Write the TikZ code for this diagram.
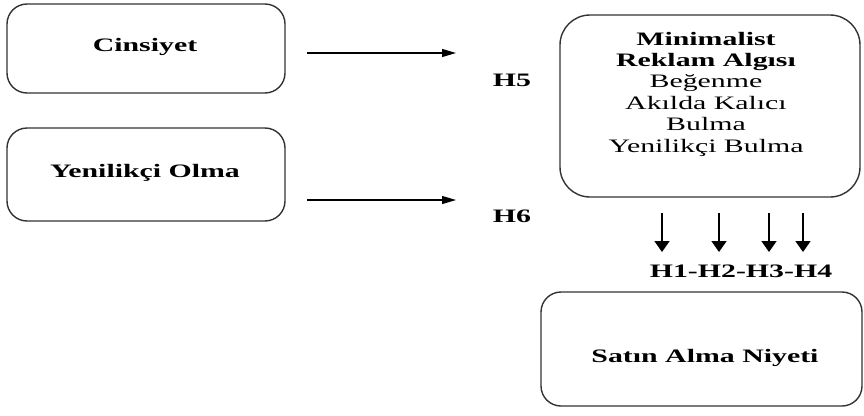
\documentclass[tikz,border=0pt]{standalone}
\usepackage{fontspec}
\setmainfont{Liberation Serif}[FakeStretch=1.57]
\usetikzlibrary{arrows.meta}
\begin{document}
\begin{tikzpicture}[x=1pt,y=-1pt,
  box/.style={draw=black!80,line width=1.4pt,rounded corners=#1,inner sep=0pt},
  box/.default=20pt,
  lbl/.style={font=\fontsize{19}{21.4}\selectfont\bfseries,inner sep=0pt},
  txt/.style={font=\fontsize{19}{21.4}\selectfont,inner sep=0pt,align=center},
  harrow/.style={line width=1.2pt,-{Triangle[length=14pt,width=8pt]}},
  varrow/.style={line width=1.6pt,-{Triangle[length=11pt,width=15pt]}}]
\useasboundingbox (0,0) rectangle (864,415);

% outer boxes
\node[box,minimum width=278pt,minimum height=89pt] (cins) at (146,48.5) {};
\node[box,minimum width=278pt,minimum height=93pt] (yeni) at (146,174.5) {};
\node[box=30pt,minimum width=300pt,minimum height=182pt] (mra) at (710,106) {};
\node[box,minimum width=321pt,minimum height=114pt] (sani) at (701.5,349) {};

% box texts
\node[lbl] (cinst) at (145,47) {Cinsiyet};
\node[lbl] (yenit) at (145,173) {Yenilikçi Olma};
\node[txt] (mrat) at (706,94) {\textbf{Minimalist}\\\textbf{Reklam Algısı}\\Beğenme\\Akılda Kalıcı\\Bulma\\Yenilikçi Bulma};
\node[lbl] (sanit) at (705,358) {Satın Alma Niyeti};

% hypothesis labels
\node[lbl] (h5) at (512,80) {H5};
\node[lbl] (h6) at (512,216.5) {H6};
\node[lbl] (h14) at (741,271) {H1-H2-H3-H4};

% arrow end points
\coordinate (a1s) at (307,53);  \coordinate (a1e) at (456,53);
\coordinate (a2s) at (307,200); \coordinate (a2e) at (456,200);
\foreach \n/\x in {1/662,2/719,3/769,4/803}{
  \coordinate (v\n s) at (\x,213);
  \coordinate (v\n e) at (\x,252);
}

% connectors
\draw[harrow] (a1s) -- (a1e);
\draw[harrow] (a2s) -- (a2e);
\foreach \n in {1,...,4}{
  \draw[varrow] (v\n s) -- (v\n e);
}
\end{tikzpicture}
\end{document}
